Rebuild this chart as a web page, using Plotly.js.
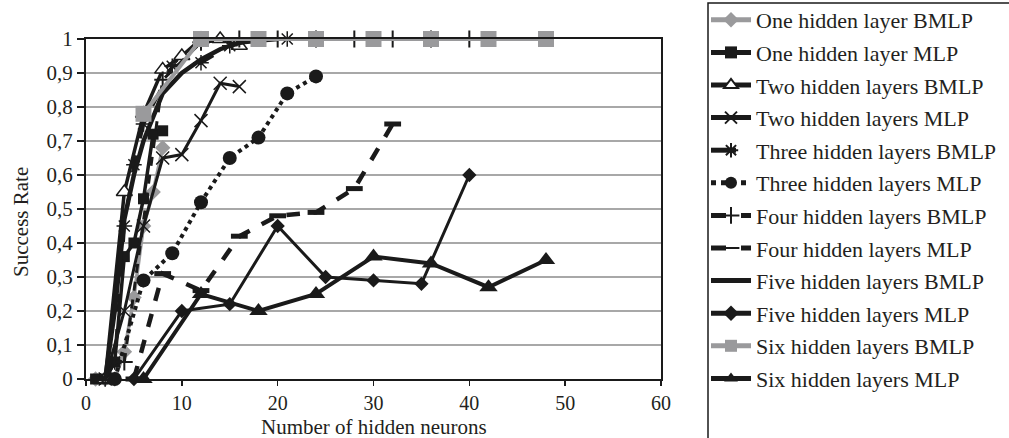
<!DOCTYPE html>
<html>
<head>
<meta charset="utf-8">
<script src="https://cdn.plot.ly/plotly-3.0.1.min.js"></script>
<style>html,body{margin:0;padding:0;background:#fff;}#chart{width:1009px;height:438px;}</style>
</head>
<body>
<div id="chart"></div>
<script>
// Data
const oneBMLP_x = [1,2,3,4,5,6,7,8];
const oneBMLP_y = [0,0,0,0.08,0.24,0.45,0.55,0.68];
const oneMLP_x = [1,2,3,4,5,6,7,8];
const oneMLP_y = [0,0,0.05,0.36,0.40,0.53,0.72,0.73];
const twoBMLP_x = [2,4,6,8,10,12,14,16];
const twoBMLP_y = [0,0.55,0.78,0.91,0.95,1,1,0.98];
const twoMLP_x = [2,4,6,8,10,12,14,16];
const twoMLP_y = [0,0.2,0.45,0.65,0.66,0.76,0.87,0.86];
const threeBMLP_x = [2,3,4,5,6,9,12,15,18,21];
const threeBMLP_y = [0,0.05,0.45,0.63,0.75,0.92,0.93,0.98,1,1];
const threeMLP_x = [3,6,9,12,15,18,21,24];
const threeMLP_y = [0,0.29,0.37,0.52,0.65,0.71,0.84,0.89];
const fourBMLP_x = [4,8,12,16,20,24,28,32,36,40];
const fourBMLP_y = [0.05,0.88,0.99,1,1,1,1,1,1,1];
const fourMLP_x = [5,8,12,16,20,24,28,32];
const fourMLP_y = [0,0.31,0.26,0.42,0.48,0.49,0.56,0.75];
const fiveBMLP_x = [1,2,3,4,5,6,8,10,12,14,16,20];
const fiveBMLP_y = [0,0,0.2,0.47,0.6,0.7,0.84,0.9,0.94,0.97,0.99,1];
const fiveMLP_x = [5,10,15,20,25,30,35,40];
const fiveMLP_y = [0,0.2,0.22,0.45,0.30,0.29,0.28,0.60];
const sixBMLP_x = [6,12,18,24,30,36,42,48];
const sixBMLP_y = [0.78,1,1,1,1,1,1,1];
const sixMLP_x = [6,12,18,24,30,36,42,48];
const sixMLP_y = [0,0.25,0.20,0.25,0.36,0.34,0.27,0.35];

const names = ["One hidden layer BMLP","One hidden layer MLP","Two hidden layers BMLP","Two hidden layers MLP",
  "Three hidden layers BMLP","Three hidden layers MLP","Four hidden layers BMLP","Four hidden layers MLP",
  "Five hidden layers BMLP","Five hidden layers MLP","Six hidden layers BMLP","Six hidden layers MLP"];

const K = '#1a1a1a', G = '#9a9a9c';
function tr(i, x, y, line, marker, mode){
  return {x:x, y:y, name:names[i], legendgroup:'g'+i, type:'scatter', mode:mode||'lines+markers',
    line:line, marker:marker, cliponaxis:false};
}
const traces = [
  tr(0, oneBMLP_x, oneBMLP_y, {color:G, width:3.5}, {symbol:'diamond', size:12, color:G}),
  tr(1, oneMLP_x, oneMLP_y, {color:K, width:3.5}, {symbol:'square', size:11, color:K}),
  tr(2, twoBMLP_x, twoBMLP_y, {color:K, width:3.5}, {symbol:'triangle-up', size:14, color:'#fff', line:{color:K, width:1.5}}),
  tr(3, twoMLP_x, twoMLP_y, {color:K, width:3}, {symbol:'x-thin', size:13, color:K, line:{color:K, width:1.5}}),
  tr(4, threeBMLP_x, threeBMLP_y, {color:K, width:3.5, dash:'longdash'}, {symbol:'asterisk', size:13, color:K, line:{color:K, width:1.5}}),
  tr(5, threeMLP_x, threeMLP_y, {color:K, width:4, dash:'dot'}, {symbol:'circle', size:14, color:K}),
  tr(6, fourBMLP_x, fourBMLP_y, {color:K, width:3, dash:'dash'}, {symbol:'cross-thin', size:12, color:K, line:{color:K, width:2}}),
  tr(7, fourMLP_x, fourMLP_y, {color:K, width:4.5, dash:'dash'}, {symbol:'line-ew', size:12, color:K, line:{color:K, width:5}}),
  tr(8, fiveBMLP_x, fiveBMLP_y, {color:K, width:4.5}, {size:1}, 'lines'),
  tr(9, fiveMLP_x, fiveMLP_y, {color:K, width:3}, {symbol:'diamond', size:11, color:K}),
  tr(10, sixBMLP_x, sixBMLP_y, {color:G, width:4}, {symbol:'square', size:16, color:G}),
  tr(11, sixMLP_x, sixMLP_y, {color:K, width:4}, {symbol:'triangle-up', size:16, color:K})
];

const SERIF = '"Liberation Serif", "Times New Roman", serif';
const TXT = '#231f20';
const px2x = p => (p - 86) / 575;
const px2y = p => (379 - p) / 340;
const layout = {
  width:1009, height:438,
  margin:{l:86, r:348, t:39, b:59, autoexpand:false},
  paper_bgcolor:'#fff', plot_bgcolor:'#fff',
  separators:',.',
  font:{family:SERIF, color:TXT, size:21},
  showlegend:true,
  xaxis:{range:[0,60], dtick:10, tick0:0, showgrid:false, zeroline:false, automargin:false,
    showline:true, linecolor:K, linewidth:2, mirror:true,
    ticks:'outside', ticklen:5, tickcolor:K, tickwidth:1.5, ticklabelstandoff:0,
    tickfont:{size:20}},
  yaxis:{range:[0,1], dtick:0.1, tick0:0, showgrid:true, gridcolor:'#a8a8a8', gridwidth:1.5, zeroline:false, automargin:false,
    showline:true, linecolor:K, linewidth:2, mirror:true,
    ticks:'outside', ticklen:7, tickcolor:K, tickwidth:1.5,
    tickfont:{size:21}},
  annotations:[
    {text:'Number of hidden neurons', xref:'paper', yref:'paper', x:0.5, y:px2y(427), xanchor:'center', yanchor:'middle',
     showarrow:false, font:{size:21}},
    {text:'Success Rate', xref:'paper', yref:'paper', x:px2x(21), y:px2y(222), xanchor:'center', yanchor:'middle',
     textangle:-90, showarrow:false, font:{size:21}}
  ],
  shapes:[
    {type:'rect', xref:'paper', yref:'paper', x0:px2x(708), x1:px2x(1015), y0:px2y(3), y1:px2y(450),
     line:{color:K, width:1.5}, fillcolor:'rgba(0,0,0,0)'}
  ],
  legend:{x:px2x(706), xanchor:'left', y:px2y(-1), yanchor:'top', bgcolor:'rgba(0,0,0,0)', borderwidth:0,
    font:{size:22}, tracegroupgap:1, itemwidth:40, itemsizing:'constant', maxheight:460}
};
Plotly.newPlot('chart', traces, layout, {staticPlot:true});
</script>
</body>
</html>
